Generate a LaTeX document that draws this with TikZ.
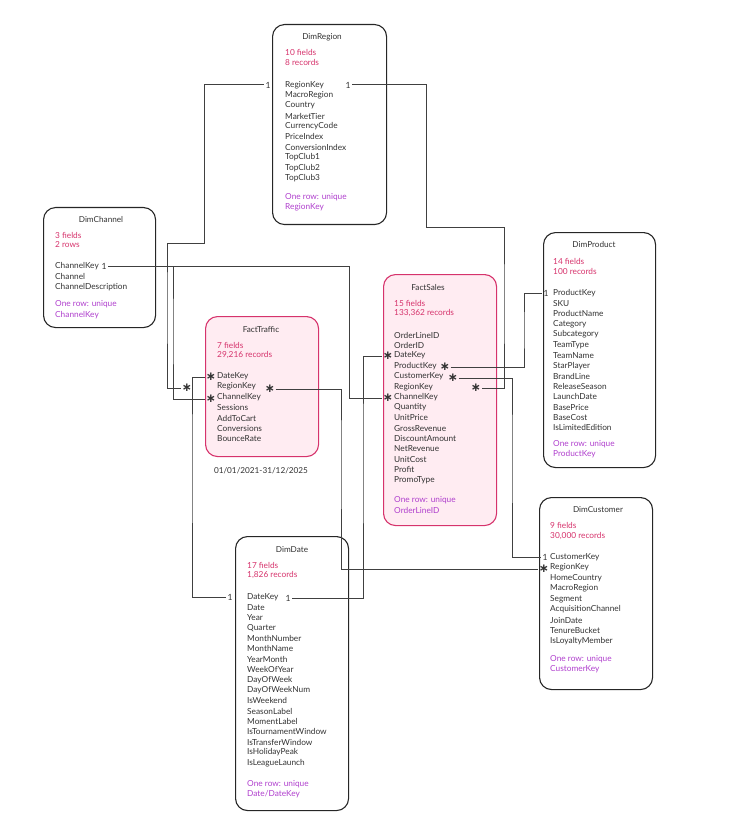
\documentclass[tikz,border=0pt]{standalone}
\usepackage{fontspec}
\setmainfont{Lato}
\newfontfamily\markfont{DejaVu Sans}
\definecolor{textgray}{RGB}{50,50,50}
\definecolor{metared}{RGB}{214,51,108}
\definecolor{notepurple}{RGB}{175,62,205}
\definecolor{factpink}{RGB}{214,51,108}
\definecolor{factfill}{RGB}{255,236,242}
\usetikzlibrary{positioning}
\tikzset{
  % tables
  tbl/.style      ={draw=black!85, line width=1.1pt, rounded corners=12pt, anchor=north west, inner sep=0pt},
  facttbl/.style  ={tbl, draw=factpink, fill=factfill},
  % text
  ttl/.style      ={text=textgray, font=\fontsize{8.2}{9}\selectfont, inner sep=1pt},
  fld/.style      ={anchor=west, text=textgray, font=\fontsize{8.3}{9}\selectfont, inner sep=1pt},
  meta/.style     ={fld, text=metared},
  note/.style     ={fld, text=notepurple},
  card/.style     ={text=textgray, font=\fontsize{8.5}{9}\selectfont, inner sep=1.5pt},
  many/.style     ={text=black!80, font=\markfont\bfseries\fontsize{12}{12}\selectfont, inner sep=0.5pt},
  % connectors
  link/.style     ={draw=black!75, line width=1pt}
}
\begin{document}
\begin{tikzpicture}[x=1pt,y=-1pt]
  \useasboundingbox (0,0) rectangle (732,834);

  % DimRegion
  \node[tbl, minimum width=114pt, minimum height=200pt] (region) at (272,24) {};
  \node[ttl] (regionT) at (322,37) {DimRegion};
  \node[meta] (regionM1) at (284,52) {10 fields};
  \node[meta] (regionM2) at (284,62) {8 records};
  \foreach \f [count=\i] in {RegionKey,MacroRegion,Country,MarketTier,CurrencyCode,PriceIndex,ConversionIndex,TopClub1,TopClub2,TopClub3}
    \node[fld] (rg\i) at (284,{85+(\i-1)*10.35}) {\f};
  \node[note] (regionN1) at (284,197) {One row: unique};
  \node[note] (regionN2) at (284,207) {RegionKey};

  % DimChannel
  \node[tbl, minimum width=112pt, minimum height=120pt] (channel) at (43,207) {};
  \node[ttl] (channelT) at (101,220) {DimChannel};
  \node[meta] (channelM1) at (54,235) {3 fields};
  \node[meta] (channelM2) at (54,245) {2 rows};
  \foreach \f [count=\i] in {ChannelKey,Channel,ChannelDescription}
    \node[fld] (ch\i) at (54,{266+(\i-1)*10.5}) {\f};
  \node[note] (channelN1) at (54,304) {One row: unique};
  \node[note] (channelN2) at (54,315) {ChannelKey};

  % FactTraffic
  \node[facttbl, minimum width=113pt, minimum height=140pt] (traffic) at (205,316) {};
  \node[ttl] (trafficT) at (261,330) {FactTraffic};
  \node[meta] (trafficM1) at (216,345) {7 fields};
  \node[meta] (trafficM2) at (216,355) {29,216 records};
  \foreach \f [count=\i] in {DateKey,RegionKey,ChannelKey,Sessions,AddToCart,Conversions,BounceRate}
    \node[fld] (tf\i) at (216,{376+(\i-1)*10.5}) {\f};
  \node[ttl] (trafficR) at (261,471) {01/01/2021-31/12/2025};

  % FactSales
  \node[facttbl, minimum width=113pt, minimum height=251pt] (sales) at (383,274) {};
  \node[ttl] (salesT) at (428,288) {FactSales};
  \node[meta] (salesM1) at (393,303) {15 fields};
  \node[meta] (salesM2) at (393,313) {133,362 records};
  \foreach \f [count=\i] in {OrderLineID,OrderID,DateKey,ProductKey,CustomerKey,RegionKey,ChannelKey,Quantity,UnitPrice,GrossRevenue,DiscountAmount,NetRevenue,UnitCost,Profit,PromoType}
    \node[fld] (sl\i) at (393,{335+(\i-1)*10.36}) {\f};
  \node[note] (salesN1) at (393,500) {One row: unique};
  \node[note] (salesN2) at (393,510) {OrderLineID};

  % DimProduct
  \node[tbl, minimum width=112pt, minimum height=235pt] (product) at (543,232) {};
  \node[ttl] (productT) at (594,245) {DimProduct};
  \node[meta] (productM1) at (552,261) {14 fields};
  \node[meta] (productM2) at (552,271) {100 records};
  \foreach \f [count=\i] in {ProductKey,SKU,ProductName,Category,Subcategory,TeamType,TeamName,StarPlayer,BrandLine,ReleaseSeason,LaunchDate,BasePrice,BaseCost,IsLimitedEdition}
    \node[fld] (pr\i) at (552,{293+(\i-1)*10.38}) {\f};
  \node[note] (productN1) at (552,444) {One row: unique};
  \node[note] (productN2) at (552,454) {ProductKey};

  % DimCustomer
  \node[tbl, minimum width=113pt, minimum height=192pt] (customer) at (539,497) {};
  \node[ttl] (customerT) at (598,510) {DimCustomer};
  \node[meta] (customerM1) at (549,525) {9 fields};
  \node[meta] (customerM2) at (549,536) {30,000 records};
  \foreach \f [count=\i] in {CustomerKey,RegionKey,HomeCountry,MacroRegion,Segment,AcquisitionChannel,JoinDate,TenureBucket,IsLoyaltyMember}
    \node[fld] (cu\i) at (549,{557+(\i-1)*10.5}) {\f};
  \node[note] (customerN1) at (549,659) {One row: unique};
  \node[note] (customerN2) at (549,669) {CustomerKey};

  % DimDate
  \node[tbl, minimum width=113pt, minimum height=274pt] (date) at (235,536) {};
  \node[ttl] (dateT) at (292,550) {DimDate};
  \node[meta] (dateM1) at (246,565) {17 fields};
  \node[meta] (dateM2) at (246,575) {1,826 records};
  \foreach \f [count=\i] in {DateKey,Date,Year,Quarter,MonthNumber,MonthName,YearMonth,WeekOfYear,DayOfWeek,DayOfWeekNum,IsWeekend,SeasonLabel,MomentLabel,IsTournamentWindow,IsTransferWindow,IsHolidayPeak,IsLeagueLaunch}
    \node[fld] (dt\i) at (246,{597+(\i-1)*10.375}) {\f};
  \node[note] (dateN1) at (246,784) {One row: unique};
  \node[note] (dateN2) at (246,794) {Date/DateKey};

  % cardinality marks
  \node[card] (rgL) at (268,85) {1};
  \node[card] (rgR) at (348,85) {1};
  \node[card] (chR) at (104,266) {1};
  \node[card] (prL) at (546,293) {1};
  \node[card] (cuL) at (545,557) {1};
  \node[card] (dtL) at (230,597) {1};
  \node[card] (dtR) at (288,598) {1};
  \node[many] (tfD) at (211,377) {∗};
  \node[many] (tfRL) at (187,388) {∗};
  \node[many] (tfRR) at (270,389) {∗};
  \node[many] (tfC) at (211,399) {∗};
  \node[many] (slD) at (388,356) {∗};
  \node[many] (slP) at (445,367) {∗};
  \node[many] (slCu) at (453,378) {∗};
  \node[many] (slR) at (476,388) {∗};
  \node[many] (slC) at (388,398) {∗};
  \node[many] (cuR) at (544,569) {∗};

  % relationships
  \draw[link] (rgL.west) -| (204,243) -| (167,300) |- (tfRL.west);
  \draw[link] (rgR.east) -| (426,227) -| (504,300) |- (slR.east);
  \draw[link] (chR.east) -- (349,266) |- (slC.west);
  \draw[link] (chR.east) -| (173,330) |- (tfC.west);
  \draw[link] (slP.east) -| (524,330) |- (prL.west);
  \draw[link] (slCu.east) -| (512,450) |- (cuL.west);
  \draw[link] (tfRR.east) -| (341,450) |- (cuR.west);
  \draw[link] (dtL.west) -| (192,450) |- (tfD.west);
  \draw[link] (dtR.east) -| (363,450) |- (slD.west);
\end{tikzpicture}
\end{document}
